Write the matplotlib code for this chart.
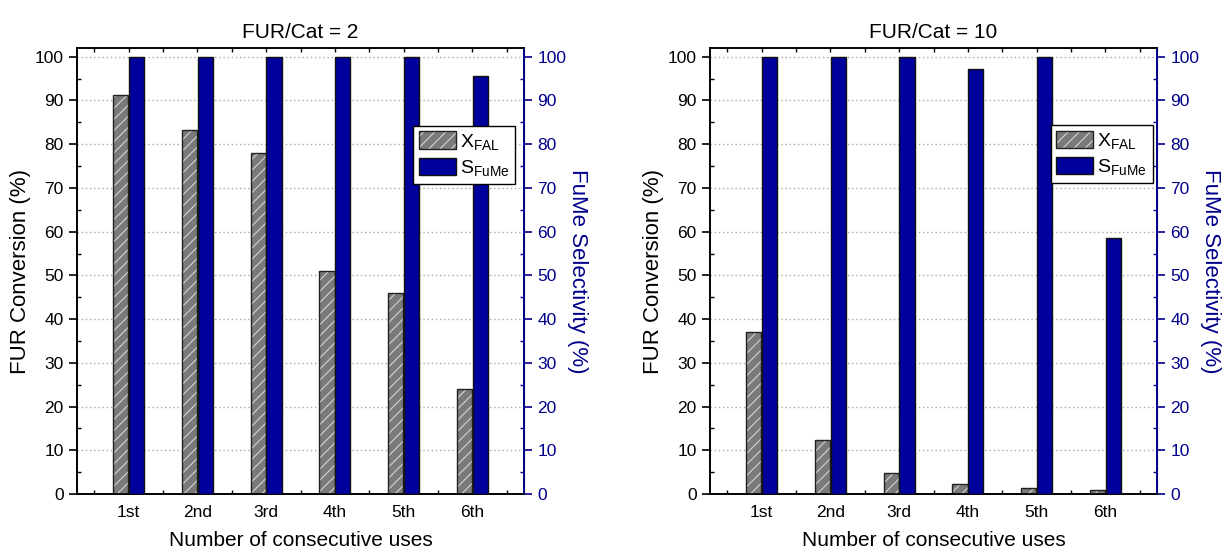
import matplotlib
matplotlib.use("Agg")
import matplotlib.pyplot as plt
import numpy as np
from matplotlib.patches import Patch
from matplotlib.legend_handler import HandlerTuple
from matplotlib.ticker import MultipleLocator

plt.rcParams['font.family'] = ['Liberation Sans', 'DejaVu Sans']
plt.rcParams['mathtext.fontset'] = 'custom'
plt.rcParams['mathtext.rm'] = 'Liberation Sans'
plt.rcParams['mathtext.default'] = 'regular'
plt.rcParams['hatch.linewidth'] = 0.8

# data
uses = ['1st', '2nd', '3rd', '4th', '5th', '6th']
titles = ['FUR/Cat = 2', 'FUR/Cat = 10']
conv_2 = [91.3, 83.3, 78.1, 51.1, 45.9, 23.9]
sel_2 = [100, 100, 100, 100, 100, 95.5]
conv_10 = [37.1, 12.3, 4.9, 2.2, 1.3, 1.0]
sel_10 = [100, 100, 100, 97.1, 100, 58.6]

GRAY = '#7a7a7a'
HATCH = '#d4d4d4'
BLUE = '#00009c'
AXBLUE = '#00008b'


def draw_panel(ax, conv, sel, title, leg_anchor):
    x = np.arange(1, len(uses) + 1)
    w = 0.22
    # hatched gray bars (hatch drawn light, outline drawn on top)
    ax.bar(x - 0.115, conv, w, color=GRAY, edgecolor=HATCH, hatch='///',
           linewidth=0, zorder=3)
    ax.bar(x - 0.115, conv, w, facecolor='none', edgecolor='#222222',
           linewidth=1.0, zorder=4)

    ax2 = ax.twinx()
    ax2.bar(x + 0.115, sel, w, color=BLUE, edgecolor='#111111',
            linewidth=1.0, zorder=3)

    for a in (ax, ax2):
        a.set_ylim(0, 102)
        a.yaxis.set_major_locator(MultipleLocator(10))
        a.yaxis.set_minor_locator(MultipleLocator(5))
    ax.set_xlim(0.25, 6.75)
    ax.set_xticks(x)
    ax.set_xticklabels(uses)
    ax.xaxis.set_minor_locator(MultipleLocator(0.5))

    ax.yaxis.grid(True, which='major', color='#a8a8a8', linestyle=(0, (1, 2)),
                  linewidth=1.0, zorder=0)
    ax.set_axisbelow(True)

    ax.tick_params(axis='x', which='both', direction='in', top=True,
                   length=3, width=1, labelsize=12.5, pad=8)
    ax.tick_params(axis='y', which='major', direction='out', length=6,
                   width=1.2, labelsize=12.5)
    ax.tick_params(axis='y', which='minor', direction='in', length=3,
                   width=1)
    ax2.tick_params(axis='y', which='major', direction='out', length=6,
                    width=1.2, labelsize=12.5, colors=AXBLUE)
    ax2.tick_params(axis='y', which='minor', direction='in', length=3,
                    width=1, colors=AXBLUE)

    for s in ('left', 'top', 'bottom'):
        ax.spines[s].set_linewidth(1.2)
        ax2.spines[s].set_linewidth(1.2)
    ax2.spines['right'].set_color(AXBLUE)
    ax2.spines['right'].set_linewidth(1.4)

    ax.set_title(title, fontsize=15, pad=7)
    ax.set_xlabel('Number of consecutive uses', fontsize=15, labelpad=8)
    ax.set_ylabel('FUR Conversion (%)', fontsize=16, labelpad=3)
    ax2.set_ylabel('FuMe Selectivity (%)', fontsize=16, color=AXBLUE,
                   rotation=270, labelpad=16)

    h_x = (Patch(facecolor=GRAY, edgecolor=HATCH, hatch='///', linewidth=0),
           Patch(facecolor='none', edgecolor='#222222', linewidth=1.0))
    h_s = Patch(facecolor=BLUE, edgecolor='#111111', linewidth=1.0)
    leg = ax2.legend([h_x, h_s], ['X$_{FAL}$', 'S$_{FuMe}$'],
                     handler_map={tuple: HandlerTuple(ndivide=1)},
                     loc='upper right', bbox_to_anchor=leg_anchor,
                     fontsize=14, frameon=True, fancybox=False,
                     edgecolor='black', framealpha=1, borderpad=0.3,
                     handlelength=1.9, handleheight=1.0, handletextpad=0.2,
                     labelspacing=0.3, borderaxespad=0)
    leg.get_frame().set_linewidth(1.0)
    leg.set_zorder(10)


fig = plt.figure(figsize=(12.26, 5.53), dpi=100)
ax_a = fig.add_axes([77 / 1226, 1 - 494 / 553, 447 / 1226, 446 / 553])
ax_b = fig.add_axes([710 / 1226, 1 - 494 / 553, 447 / 1226, 446 / 553])

draw_panel(ax_a, conv_2, sel_2, titles[0], (0.98, 0.826))
draw_panel(ax_b, conv_10, sel_10, titles[1], (0.99, 0.828))

fig.savefig('out.png', dpi=100)
